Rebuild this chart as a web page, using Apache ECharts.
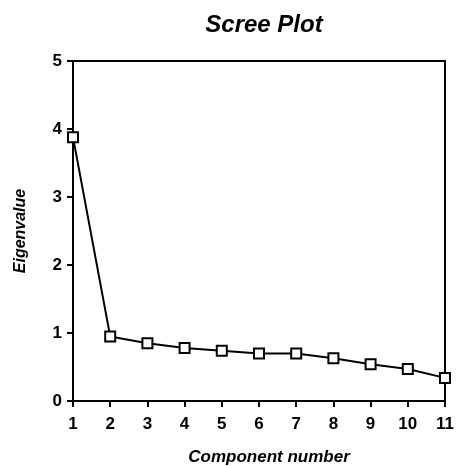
<!DOCTYPE html>
<html>
<head>
<meta charset="utf-8">
<script src="https://cdn.jsdelivr.net/npm/echarts@6/dist/echarts.min.js"></script>
<style>
  html, body { margin: 0; padding: 0; background: #fff; }
  #chart { width: 457px; height: 466px; }
</style>
</head>
<body>
<div id="chart"></div>
<script>
// Component numbers and their eigenvalues
const components = [1, 2, 3, 4, 5, 6, 7, 8, 9, 10, 11];
const eigenvalues = [3.88, 0.95, 0.85, 0.78, 0.74, 0.70, 0.70, 0.63, 0.54, 0.47, 0.34];

const chart = echarts.init(document.getElementById('chart'));
const labelFont = { color: '#000', fontFamily: 'Liberation Sans', fontWeight: 'bold', fontSize: 17 };

chart.setOption({
  animation: false,
  title: {
    text: 'Scree Plot',
    left: 259, top: 8, textAlign: 'center',
    textStyle: { color: '#000', fontFamily: 'Liberation Sans', fontWeight: 'bold', fontStyle: 'italic', fontSize: 24 }
  },
  grid: {
    left: 73, right: 12, top: 61, bottom: 65,
    outerBoundsMode: 'none', containLabel: false,
    show: true, borderColor: '#000', borderWidth: 2, backgroundColor: 'transparent'
  },
  xAxis: {
    type: 'value', min: 1, max: 11, interval: 1,
    name: 'Component number', nameLocation: 'middle', nameGap: 48,
    nameTextStyle: { color: '#000', fontFamily: 'Liberation Sans', fontWeight: 'bold', fontStyle: 'italic', fontSize: 17, padding: [0, 0, 0, 20] },
    axisLine: { lineStyle: { color: '#000', width: 2 } },
    axisTick: { show: true, length: 6, lineStyle: { color: '#000', width: 2 } },
    axisLabel: Object.assign({ margin: 15 }, labelFont),
    splitLine: { show: false }
  },
  yAxis: {
    type: 'value', min: 0, max: 5, interval: 1,
    name: 'Eigenvalue', nameLocation: 'middle', nameGap: 44,
    nameTextStyle: { color: '#000', fontFamily: 'Liberation Sans', fontWeight: 'bold', fontStyle: 'italic', fontSize: 16 },
    axisLine: { show: true, lineStyle: { color: '#000', width: 2 } },
    axisTick: { show: true, length: 6, lineStyle: { color: '#000', width: 2 } },
    axisLabel: Object.assign({ margin: 11 }, labelFont),
    splitLine: { show: false }
  },
  series: [{
    type: 'line',
    data: components.map((c, i) => [c, eigenvalues[i]]),
    symbol: 'rect', symbolSize: 10,
    itemStyle: { color: '#fff', borderColor: '#000', borderWidth: 2 },
    lineStyle: { color: '#000', width: 2 },
    clip: false
  }]
});
</script>
</body>
</html>
